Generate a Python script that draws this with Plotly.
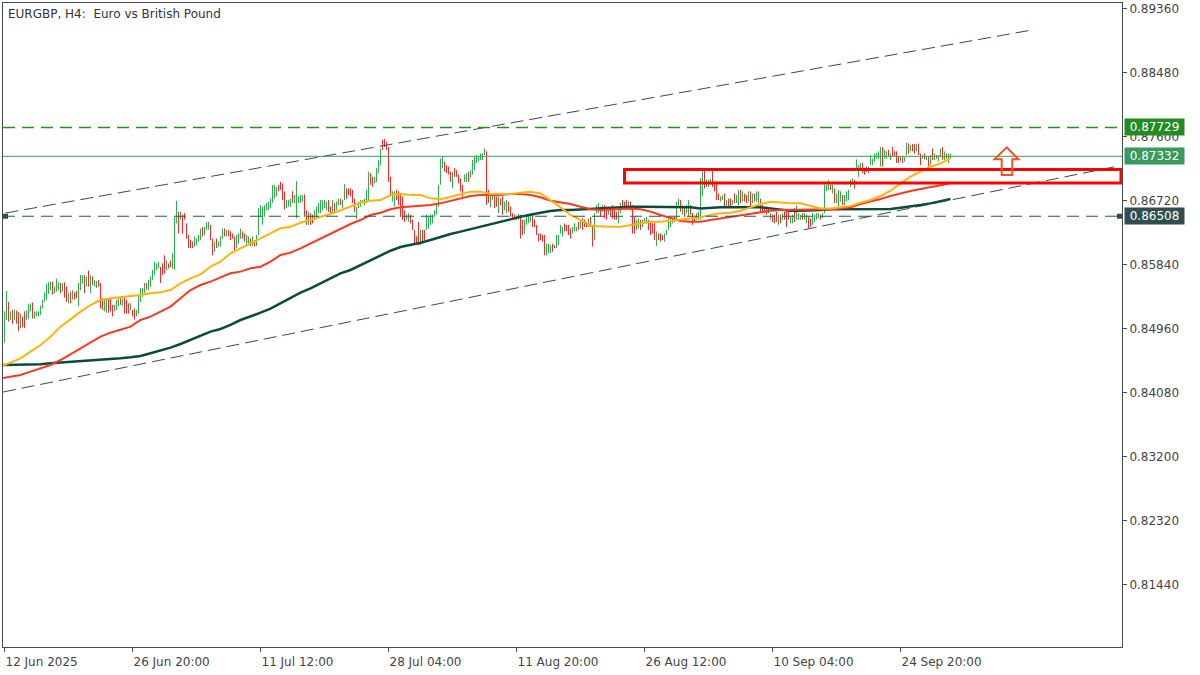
import plotly.graph_objects as go

# ---------------- data ----------------
tick_bars = [0, 64, 128, 192, 256, 320, 384, 448]
tick_labels = ["12 Jun 2025", "26 Jun 20:00", "11 Jul 12:00", "28 Jul 04:00",
               "11 Aug 20:00", "26 Aug 12:00", "10 Sep 04:00", "24 Sep 20:00"]

price_ticks = [0.89360, 0.88480, 0.87600, 0.86720, 0.85840,
               0.84960, 0.84080, 0.83200, 0.82320, 0.81440]

highs = [
    0.8520, 0.8548, 0.8533, 0.8520, 0.8522, 0.8522, 0.8521, 0.8519, 0.8517, 0.8513,
    0.8520, 0.8521, 0.8530, 0.8531, 0.8532, 0.8520, 0.8520, 0.8520, 0.8528, 0.8536,
    0.8546, 0.8558, 0.8560, 0.8561, 0.8561, 0.8554, 0.8565, 0.8560, 0.8559, 0.8559,
    0.8560, 0.8554, 0.8545, 0.8547, 0.8549, 0.8546, 0.8548, 0.8559, 0.8570, 0.8570,
    0.8570, 0.8568, 0.8576, 0.8570, 0.8568, 0.8563, 0.8562, 0.8563, 0.8559, 0.8538,
    0.8536, 0.8538, 0.8538, 0.8538, 0.8529, 0.8529, 0.8536, 0.8538, 0.8538, 0.8538,
    0.8539, 0.8536, 0.8531, 0.8531, 0.8522, 0.8524, 0.8522, 0.8543, 0.8552, 0.8552,
    0.8559, 0.8559, 0.8563, 0.8568, 0.8577, 0.8588, 0.8586, 0.8588, 0.8581, 0.8586,
    0.8597, 0.8590, 0.8586, 0.8590, 0.8600, 0.8650, 0.8672, 0.8657, 0.8657, 0.8653,
    0.8655, 0.8641, 0.8625, 0.8618, 0.8616, 0.8623, 0.8620, 0.8625, 0.8634, 0.8636,
    0.8636, 0.8643, 0.8643, 0.8639, 0.8620, 0.8616, 0.8620, 0.8616, 0.8623, 0.8634,
    0.8634, 0.8632, 0.8632, 0.8630, 0.8627, 0.8623, 0.8625, 0.8627, 0.8634, 0.8630,
    0.8627, 0.8625, 0.8623, 0.8620, 0.8623, 0.8618, 0.8625, 0.8662, 0.8666, 0.8664,
    0.8666, 0.8669, 0.8671, 0.8675, 0.8694, 0.8694, 0.8691, 0.8694, 0.8698, 0.8696,
    0.8685, 0.8673, 0.8673, 0.8675, 0.8685, 0.8680, 0.8699, 0.8678, 0.8680, 0.8680,
    0.8681, 0.8659, 0.8657, 0.8655, 0.8653, 0.8659, 0.8664, 0.8669, 0.8673, 0.8673,
    0.8673, 0.8671, 0.8673, 0.8664, 0.8673, 0.8669, 0.8671, 0.8675, 0.8675, 0.8673,
    0.8695, 0.8689, 0.8689, 0.8689, 0.8687, 0.8675, 0.8664, 0.8671, 0.8673, 0.8673,
    0.8675, 0.8687, 0.8712, 0.8710, 0.8705, 0.8705, 0.8717, 0.8728, 0.8744, 0.8756,
    0.8757, 0.8753, 0.8746, 0.8705, 0.8685, 0.8685, 0.8687, 0.8685, 0.8682, 0.8678,
    0.8659, 0.8653, 0.8655, 0.8653, 0.8646, 0.8632, 0.8623, 0.8643, 0.8632, 0.8632,
    0.8632, 0.8653, 0.8650, 0.8653, 0.8653, 0.8659, 0.8669, 0.8694, 0.8730, 0.8733,
    0.8726, 0.8721, 0.8719, 0.8712, 0.8712, 0.8717, 0.8714, 0.8708, 0.8703, 0.8694,
    0.8708, 0.8710, 0.8712, 0.8714, 0.8728, 0.8733, 0.8735, 0.8733, 0.8737, 0.8737,
    0.8744, 0.8740, 0.8687, 0.8680, 0.8680, 0.8679, 0.8678, 0.8678, 0.8675, 0.8678,
    0.8671, 0.8673, 0.8671, 0.8664, 0.8655, 0.8653, 0.8650, 0.8654, 0.8653, 0.8646,
    0.8646, 0.8653, 0.8653, 0.8655, 0.8655, 0.8646, 0.8639, 0.8627, 0.8627, 0.8625,
    0.8625, 0.8613, 0.8613, 0.8611, 0.8613, 0.8611, 0.8625, 0.8625, 0.8639, 0.8636,
    0.8641, 0.8639, 0.8639, 0.8634, 0.8636, 0.8641, 0.8636, 0.8643, 0.8646, 0.8648,
    0.8646, 0.8643, 0.8648, 0.8650, 0.8639, 0.8655, 0.8666, 0.8669, 0.8664, 0.8666,
    0.8666, 0.8664, 0.8664, 0.8664, 0.8666, 0.8659, 0.8657, 0.8659, 0.8669, 0.8673,
    0.8671, 0.8673, 0.8671, 0.8671, 0.8666, 0.8650, 0.8646, 0.8648, 0.8646, 0.8646,
    0.8648, 0.8650, 0.8646, 0.8643, 0.8641, 0.8641, 0.8630, 0.8627, 0.8627, 0.8625,
    0.8627, 0.8632, 0.8648, 0.8646, 0.8648, 0.8650, 0.8671, 0.8675, 0.8673, 0.8666,
    0.8664, 0.8666, 0.8673, 0.8666, 0.8655, 0.8650, 0.8655, 0.8657, 0.8703, 0.8714,
    0.8714, 0.8701, 0.8701, 0.8702, 0.8714, 0.8698, 0.8698, 0.8682, 0.8678, 0.8680,
    0.8682, 0.8673, 0.8675, 0.8675, 0.8673, 0.8682, 0.8680, 0.8687, 0.8687, 0.8685,
    0.8682, 0.8680, 0.8685, 0.8685, 0.8682, 0.8682, 0.8685, 0.8685, 0.8675, 0.8666,
    0.8664, 0.8664, 0.8662, 0.8655, 0.8653, 0.8653, 0.8657, 0.8653, 0.8653, 0.8655,
    0.8657, 0.8659, 0.8657, 0.8650, 0.8653, 0.8662, 0.8666, 0.8655, 0.8653, 0.8655,
    0.8655, 0.8653, 0.8650, 0.8648, 0.8655, 0.8653, 0.8655, 0.8655, 0.8653, 0.8655,
    0.8694, 0.8694, 0.8701, 0.8694, 0.8694, 0.8689, 0.8682, 0.8687, 0.8685, 0.8680,
    0.8680, 0.8685, 0.8687, 0.8701, 0.8703, 0.8701, 0.8729, 0.8721, 0.8724, 0.8724,
    0.8717, 0.8719, 0.8719, 0.8735, 0.8730, 0.8737, 0.8738, 0.8740, 0.8746, 0.8746,
    0.8742, 0.8740, 0.8742, 0.8737, 0.8746, 0.8740, 0.8740, 0.8733, 0.8733, 0.8733,
    0.8732, 0.8752, 0.8751, 0.8749, 0.8750, 0.8750, 0.8750, 0.8751, 0.8737, 0.8735,
    0.8737, 0.8733, 0.8733, 0.8735, 0.8744, 0.8737, 0.8735, 0.8735, 0.8744, 0.8746,
    0.8740, 0.8737, 0.8737, 0.8737,
]

lows = [
    0.8477, 0.8508, 0.8506, 0.8508, 0.8503, 0.8508, 0.8503, 0.8493, 0.8497, 0.8498,
    0.8497, 0.8508, 0.8510, 0.8520, 0.8510, 0.8510, 0.8513, 0.8513, 0.8515, 0.8524,
    0.8533, 0.8536, 0.8544, 0.8549, 0.8543, 0.8545, 0.8547, 0.8549, 0.8545, 0.8547,
    0.8539, 0.8533, 0.8531, 0.8531, 0.8536, 0.8536, 0.8538, 0.8527, 0.8549, 0.8558,
    0.8545, 0.8554, 0.8554, 0.8545, 0.8556, 0.8554, 0.8552, 0.8554, 0.8524, 0.8522,
    0.8520, 0.8518, 0.8518, 0.8520, 0.8513, 0.8520, 0.8522, 0.8527, 0.8529, 0.8527,
    0.8517, 0.8517, 0.8517, 0.8522, 0.8513, 0.8509, 0.8513, 0.8517, 0.8533, 0.8540,
    0.8545, 0.8550, 0.8549, 0.8554, 0.8563, 0.8570, 0.8577, 0.8579, 0.8559, 0.8570,
    0.8572, 0.8577, 0.8579, 0.8581, 0.8579, 0.8577, 0.8641, 0.8627, 0.8646, 0.8627,
    0.8646, 0.8620, 0.8607, 0.8607, 0.8607, 0.8609, 0.8611, 0.8616, 0.8618, 0.8623,
    0.8625, 0.8632, 0.8632, 0.8618, 0.8597, 0.8602, 0.8607, 0.8609, 0.8609, 0.8620,
    0.8623, 0.8623, 0.8623, 0.8618, 0.8620, 0.8604, 0.8607, 0.8613, 0.8620, 0.8620,
    0.8616, 0.8611, 0.8613, 0.8610, 0.8610, 0.8609, 0.8610, 0.8625, 0.8650, 0.8639,
    0.8650, 0.8659, 0.8659, 0.8662, 0.8669, 0.8675, 0.8678, 0.8685, 0.8687, 0.8673,
    0.8660, 0.8662, 0.8664, 0.8664, 0.8669, 0.8669, 0.8648, 0.8669, 0.8669, 0.8671,
    0.8650, 0.8639, 0.8639, 0.8639, 0.8641, 0.8646, 0.8650, 0.8655, 0.8655, 0.8659,
    0.8662, 0.8659, 0.8657, 0.8655, 0.8655, 0.8657, 0.8659, 0.8666, 0.8666, 0.8662,
    0.8673, 0.8675, 0.8680, 0.8678, 0.8669, 0.8657, 0.8647, 0.8662, 0.8664, 0.8669,
    0.8666, 0.8669, 0.8673, 0.8694, 0.8691, 0.8696, 0.8698, 0.8710, 0.8721, 0.8742,
    0.8746, 0.8742, 0.8698, 0.8678, 0.8671, 0.8664, 0.8673, 0.8666, 0.8650, 0.8646,
    0.8643, 0.8646, 0.8643, 0.8641, 0.8632, 0.8613, 0.8613, 0.8611, 0.8611, 0.8613,
    0.8618, 0.8632, 0.8634, 0.8639, 0.8641, 0.8650, 0.8653, 0.8664, 0.8694, 0.8717,
    0.8712, 0.8710, 0.8708, 0.8698, 0.8689, 0.8705, 0.8705, 0.8696, 0.8685, 0.8678,
    0.8698, 0.8698, 0.8698, 0.8704, 0.8708, 0.8714, 0.8724, 0.8726, 0.8728, 0.8728,
    0.8735, 0.8666, 0.8669, 0.8663, 0.8673, 0.8662, 0.8664, 0.8655, 0.8666, 0.8653,
    0.8659, 0.8655, 0.8657, 0.8650, 0.8646, 0.8646, 0.8646, 0.8646, 0.8620, 0.8625,
    0.8627, 0.8639, 0.8641, 0.8643, 0.8636, 0.8636, 0.8625, 0.8616, 0.8618, 0.8616,
    0.8597, 0.8597, 0.8600, 0.8600, 0.8602, 0.8607, 0.8607, 0.8611, 0.8627, 0.8623,
    0.8630, 0.8630, 0.8625, 0.8620, 0.8627, 0.8630, 0.8630, 0.8632, 0.8634, 0.8632,
    0.8636, 0.8636, 0.8636, 0.8636, 0.8609, 0.8618, 0.8655, 0.8655, 0.8650, 0.8657,
    0.8648, 0.8646, 0.8653, 0.8650, 0.8648, 0.8646, 0.8646, 0.8641, 0.8655, 0.8663,
    0.8662, 0.8663, 0.8664, 0.8659, 0.8627, 0.8627, 0.8632, 0.8634, 0.8632, 0.8636,
    0.8641, 0.8641, 0.8632, 0.8625, 0.8627, 0.8618, 0.8610, 0.8618, 0.8616, 0.8618,
    0.8616, 0.8625, 0.8632, 0.8636, 0.8641, 0.8643, 0.8646, 0.8662, 0.8657, 0.8653,
    0.8650, 0.8655, 0.8650, 0.8653, 0.8639, 0.8643, 0.8646, 0.8646, 0.8646, 0.8678,
    0.8689, 0.8691, 0.8691, 0.8694, 0.8691, 0.8685, 0.8673, 0.8673, 0.8671, 0.8673,
    0.8662, 0.8662, 0.8664, 0.8662, 0.8666, 0.8669, 0.8669, 0.8666, 0.8669, 0.8671,
    0.8671, 0.8669, 0.8671, 0.8664, 0.8669, 0.8671, 0.8671, 0.8669, 0.8657, 0.8657,
    0.8655, 0.8653, 0.8655, 0.8646, 0.8643, 0.8641, 0.8643, 0.8639, 0.8641, 0.8646,
    0.8646, 0.8636, 0.8646, 0.8641, 0.8641, 0.8643, 0.8646, 0.8646, 0.8646, 0.8646,
    0.8646, 0.8641, 0.8634, 0.8636, 0.8639, 0.8643, 0.8646, 0.8648, 0.8646, 0.8648,
    0.8655, 0.8685, 0.8687, 0.8687, 0.8682, 0.8669, 0.8669, 0.8664, 0.8671, 0.8666,
    0.8666, 0.8671, 0.8673, 0.8691, 0.8694, 0.8689, 0.8714, 0.8705, 0.8714, 0.8710,
    0.8708, 0.8712, 0.8710, 0.8721, 0.8721, 0.8726, 0.8730, 0.8730, 0.8719, 0.8719,
    0.8730, 0.8730, 0.8733, 0.8728, 0.8733, 0.8733, 0.8724, 0.8724, 0.8726, 0.8724,
    0.8726, 0.8735, 0.8737, 0.8740, 0.8740, 0.8737, 0.8740, 0.8735, 0.8721, 0.8730,
    0.8729, 0.8728, 0.8719, 0.8721, 0.8728, 0.8728, 0.8730, 0.8726, 0.8733, 0.8728,
    0.8728, 0.8730, 0.8724, 0.8730,
]

# U = bullish bar, D = bearish bar
directions = list(
    "UUDUDUDDUD" "DUUUDUUUUU" "UUUUDUUUDU" "DDUDUDDUUU" "DUDUDUUDDD"
    "UUDDDUUUDU" "DDDUDDUUUU" "UDUUUUUUDD" "DUDDUUUDUD" "DDDDDUUUUD"
    "UUUDDUDUUU" "DUDDDDUUUD" "DUUDUDUUUU" "UUUUUUUDDD" "DUUUDUUUUU"
    "DDUDDUUUUU" "UUDDUDUUDU" "UDDDDDUUUU" "UUUDDUUUUD" "DDDDUUDDDD"
    "DUUDDDDDUD" "DUUUUUUUUU" "DDDDUDDDDD" "UUDUUUUUUU" "UDDUUDDUDD"
    "UUDDDDUUDD" "UUUUDDDDDD" "DUUUDDUUUU" "DDDDUUUDUD" "DDUDDUUUDU"
    "DDUDDDDUUD" "DDUDDDUUDU" "UUDDDDUDDD" "UUUUUDUUDU" "DUUDDDUUUU"
    "DUUUDDDDUU" "DUDDUDUUDU" "DDUDUDUUDD" "DDDUDDDUDU" "DDDUUDUUUD"
    "UUDDUUUUDU" "UUUDUDUUUD" "UUUUUDUUUD" "DDUUUUUUUD" "UUDUDDDDUD"
    "UUDUDDUDDU" "DUDUDUDUUD" "UDUU"
)

# moving averages, sampled every 5 bars starting at bar -2
ma_first_bar = -2
ma_every = 5
ma_fast = [  # orange
    0.84440, 0.84495, 0.84554, 0.84646, 0.84738, 0.84852, 0.84990, 0.85090, 0.85196, 0.85287,
    0.85356, 0.85379, 0.85393, 0.85416, 0.85425, 0.85448, 0.85462, 0.85494, 0.85585, 0.85654,
    0.85709, 0.85814, 0.85883, 0.85998,
    0.86066, 0.86126, 0.86204, 0.86273, 0.86342, 0.86364, 0.86419, 0.86465, 0.86502, 0.86539,
    0.86594, 0.86639, 0.86694, 0.86722, 0.86731, 0.86800, 0.86814, 0.86800, 0.86800, 0.86754,
    0.86740, 0.86777, 0.86814,
    0.86846, 0.86846, 0.86814, 0.86814, 0.86814, 0.86832, 0.86846, 0.86823, 0.86731, 0.86630,
    0.86525, 0.86456, 0.86374, 0.86364, 0.86364, 0.86364, 0.86387, 0.86401, 0.86433, 0.86433,
    0.86447, 0.86456, 0.86479,
    0.86493, 0.86525, 0.86548, 0.86557, 0.86584, 0.86630, 0.86676, 0.86708, 0.86694, 0.86685,
    0.86685, 0.86649, 0.86616, 0.86616, 0.86630, 0.86649, 0.86694, 0.86731, 0.86786, 0.86859,
    0.86960, 0.87052, 0.87121, 0.87189, 0.87235, 0.87304,
]
ma_mid = [  # red
    0.84279, 0.84302, 0.84325, 0.84371, 0.84417, 0.84463, 0.84531, 0.84614, 0.84692, 0.84770,
    0.84852, 0.84907, 0.84944, 0.84990, 0.85081, 0.85127, 0.85196, 0.85265, 0.85379, 0.85494,
    0.85562, 0.85608, 0.85668, 0.85723,
    0.85746, 0.85792, 0.85814, 0.85883, 0.85975, 0.86007, 0.86066, 0.86135, 0.86204, 0.86273,
    0.86342, 0.86401, 0.86456, 0.86525, 0.86557, 0.86603, 0.86630, 0.86639, 0.86653, 0.86662,
    0.86685, 0.86717, 0.86754,
    0.86786, 0.86800, 0.86800, 0.86800, 0.86814, 0.86814, 0.86800, 0.86768, 0.86722, 0.86704,
    0.86676, 0.86639, 0.86603, 0.86594, 0.86603, 0.86616, 0.86616, 0.86603, 0.86571, 0.86525,
    0.86479, 0.86442, 0.86433,
    0.86433, 0.86456, 0.86479, 0.86502, 0.86525, 0.86548, 0.86571, 0.86584, 0.86594, 0.86594,
    0.86594, 0.86594, 0.86603, 0.86603, 0.86616, 0.86630, 0.86676, 0.86708, 0.86745, 0.86786,
    0.86823, 0.86855, 0.86882, 0.86905, 0.86937, 0.86960,
]
ma_slow = [  # dark green
    0.84463, 0.84463, 0.84463, 0.84463, 0.84472, 0.84485, 0.84495, 0.84499, 0.84508, 0.84522,
    0.84531, 0.84545, 0.84554, 0.84568, 0.84586, 0.84623, 0.84660, 0.84701, 0.84751, 0.84806,
    0.84861, 0.84921, 0.84958, 0.85013,
    0.85081, 0.85127, 0.85182, 0.85237, 0.85310, 0.85379, 0.85457, 0.85517, 0.85585, 0.85654,
    0.85723, 0.85769, 0.85837, 0.85897, 0.85975, 0.86034, 0.86085, 0.86112, 0.86144, 0.86181,
    0.86227, 0.86264, 0.86296,
    0.86328, 0.86364, 0.86401, 0.86433, 0.86465, 0.86502, 0.86534, 0.86557, 0.86580, 0.86594,
    0.86594, 0.86603, 0.86603, 0.86616, 0.86626, 0.86630, 0.86639, 0.86639, 0.86639, 0.86639,
    0.86639, 0.86630, 0.86630,
    0.86616, 0.86626, 0.86630, 0.86630, 0.86630, 0.86630, 0.86630, 0.86616, 0.86603, 0.86584,
    0.86584, 0.86584, 0.86594, 0.86603, 0.86603, 0.86603, 0.86603, 0.86603, 0.86603, 0.86607,
    0.86626, 0.86639, 0.86662, 0.86685, 0.86717, 0.86745,
]

level_resistance = 0.87729
level_bid = 0.87332
level_support = 0.86508

zone_bars = [310, 558.25]
zone_prices = [0.86965, 0.87150]

upper_channel_bars = [0.5, 512.75]
upper_channel_prices = [0.86552, 0.89064]
lower_channel_bars = [-0.75, 555.25]
lower_channel_prices = [0.84091, 0.87189]

title_text = "EURGBP, H4:\u00a0 Euro vs British Pound"

# ---------------- styles ----------------
C_UP = "#2BB24C"
C_DOWN = "#F52A2A"
C_FAST = "#FFB20F"
C_MID = "#FF3620"
C_SLOW = "#0D4A3B"
C_SLATE = "#2F4F4F"
C_FOREST = "#1E961E"
C_BID = "#3A9A5C"
C_AXIS = "#4A4A4A"
FONT = "DejaVu Sans"

fig = go.Figure()

# bars (high-low lines coloured by direction)
ux, uy, dx, dy = [], [], [], []
for i, (h, l, d) in enumerate(zip(highs, lows, directions)):
    if d == "U":
        ux += [i, i, None]
        uy += [l, h, None]
    else:
        dx += [i, i, None]
        dy += [l, h, None]

fig.add_trace(go.Scatter(x=ux, y=uy, mode="lines", line=dict(color=C_UP, width=1),
                         hoverinfo="skip", connectgaps=False))
fig.add_trace(go.Scatter(x=dx, y=dy, mode="lines", line=dict(color=C_DOWN, width=1),
                         hoverinfo="skip", connectgaps=False))

ma_x = [ma_first_bar + ma_every * k for k in range(len(ma_fast))]
fig.add_trace(go.Scatter(x=ma_x, y=ma_slow, mode="lines", line=dict(color=C_SLOW, width=2.5)))
fig.add_trace(go.Scatter(x=ma_x, y=ma_mid, mode="lines", line=dict(color=C_MID, width=2)))
fig.add_trace(go.Scatter(x=ma_x, y=ma_fast, mode="lines", line=dict(color=C_FAST, width=2)))

# channel lines
fig.add_shape(type="line", xref="x", yref="y",
              x0=upper_channel_bars[0], x1=upper_channel_bars[1],
              y0=upper_channel_prices[0], y1=upper_channel_prices[1],
              line=dict(color=C_SLATE, width=1, dash="13px,6px"))
fig.add_shape(type="line", xref="x", yref="y",
              x0=lower_channel_bars[0], x1=lower_channel_bars[1],
              y0=lower_channel_prices[0], y1=lower_channel_prices[1],
              line=dict(color=C_SLATE, width=1, dash="13px,6px"))

# horizontal levels
fig.add_shape(type="line", xref="paper", yref="y", x0=0, x1=1,
              y0=level_resistance, y1=level_resistance,
              line=dict(color=C_FOREST, width=1.5, dash="12px,7px"))
fig.add_shape(type="line", xref="paper", yref="y", x0=0, x1=1,
              y0=level_bid, y1=level_bid, line=dict(color=C_BID, width=1))
fig.add_shape(type="line", xref="paper", yref="y", x0=0, x1=1,
              y0=level_support, y1=level_support,
              line=dict(color=C_SLATE, width=1, dash="12px,7px"))

# anchor squares of the support line
for anchor, (p0, p1) in [(0, (0, 5)), (1, (-5, 0))]:
    fig.add_shape(type="rect", xref="paper", yref="y",
                  xsizemode="pixel", xanchor=anchor, x0=p0, x1=p1,
                  ysizemode="pixel", yanchor=level_support, y0=-2.5, y1=2.5,
                  fillcolor=C_SLATE, line=dict(width=0))

# zone rectangle
fig.add_shape(type="rect", xref="x", yref="y",
              x0=zone_bars[0], x1=zone_bars[1], y0=zone_prices[0], y1=zone_prices[1],
              line=dict(color="#FF0000", width=3), fillcolor="rgba(0,0,0,0)")

# hollow up arrow
ax_l, ax_sl, ax_c, ax_sr, ax_r = 495.0, 498.6, 501.1, 503.9, 507.0
ay_tip, ay_base, ay_bot = 0.87455, 0.87291, 0.87075
arrow_path = (f"M {ax_c} {ay_tip} L {ax_r} {ay_base} L {ax_sr} {ay_base} L {ax_sr} {ay_bot} "
              f"L {ax_sl} {ay_bot} L {ax_sl} {ay_base} L {ax_l} {ay_base} Z")
fig.add_shape(type="path", xref="x", yref="y", path=arrow_path,
              line=dict(color="#E9562C", width=2), fillcolor="rgba(0,0,0,0)")

# price labels on the right axis
for val, col in [(level_resistance, "#228B22"), (level_bid, C_BID), (level_support, C_SLATE)]:
    fig.add_annotation(x=1, xref="paper", y=val, yref="y", xanchor="left", yanchor="middle",
                       xshift=2, text=f"{val:.5f}", showarrow=False, bgcolor=col,
                       font=dict(family=FONT, size=12, color="white"),
                       width=59, height=16, borderpad=0, align="center")

# title
fig.add_annotation(x=0, xref="paper", y=1, yref="paper", xanchor="left", yanchor="top",
                   xshift=3, yshift=-2, text=title_text, showarrow=False,
                   font=dict(family=FONT, size=12, color="#333333"))

fig.update_layout(
    width=1200, height=675,
    margin=dict(l=3, r=78, t=3, b=28),
    paper_bgcolor="white", plot_bgcolor="white",
    showlegend=False,
)
fig.update_xaxes(
    range=[-0.75, 558.75], tickmode="array", tickvals=tick_bars, ticktext=tick_labels,
    ticks="outside", ticklen=4, tickcolor=C_AXIS, ticklabelposition="outside right",
    ticklabelstandoff=4,
    showline=True, linecolor=C_AXIS, linewidth=1, mirror=True,
    showgrid=False, zeroline=False, automargin=False,
    tickfont=dict(family=FONT, size=12, color="#444444"),
)
fig.update_yaxes(
    range=[0.80585, 0.89440], side="right", tickmode="array", tickvals=price_ticks,
    ticktext=[f"{v:.5f}" for v in price_ticks],
    ticks="outside", ticklen=4, tickcolor=C_AXIS,
    showline=True, linecolor=C_AXIS, linewidth=1, mirror=True,
    showgrid=False, zeroline=False, automargin=False,
    tickfont=dict(family=FONT, size=12, color="#444444"),
)

fig.write_html("out.html", config={"displayModeBar": False},
               post_script="document.body.style.margin='0';")
